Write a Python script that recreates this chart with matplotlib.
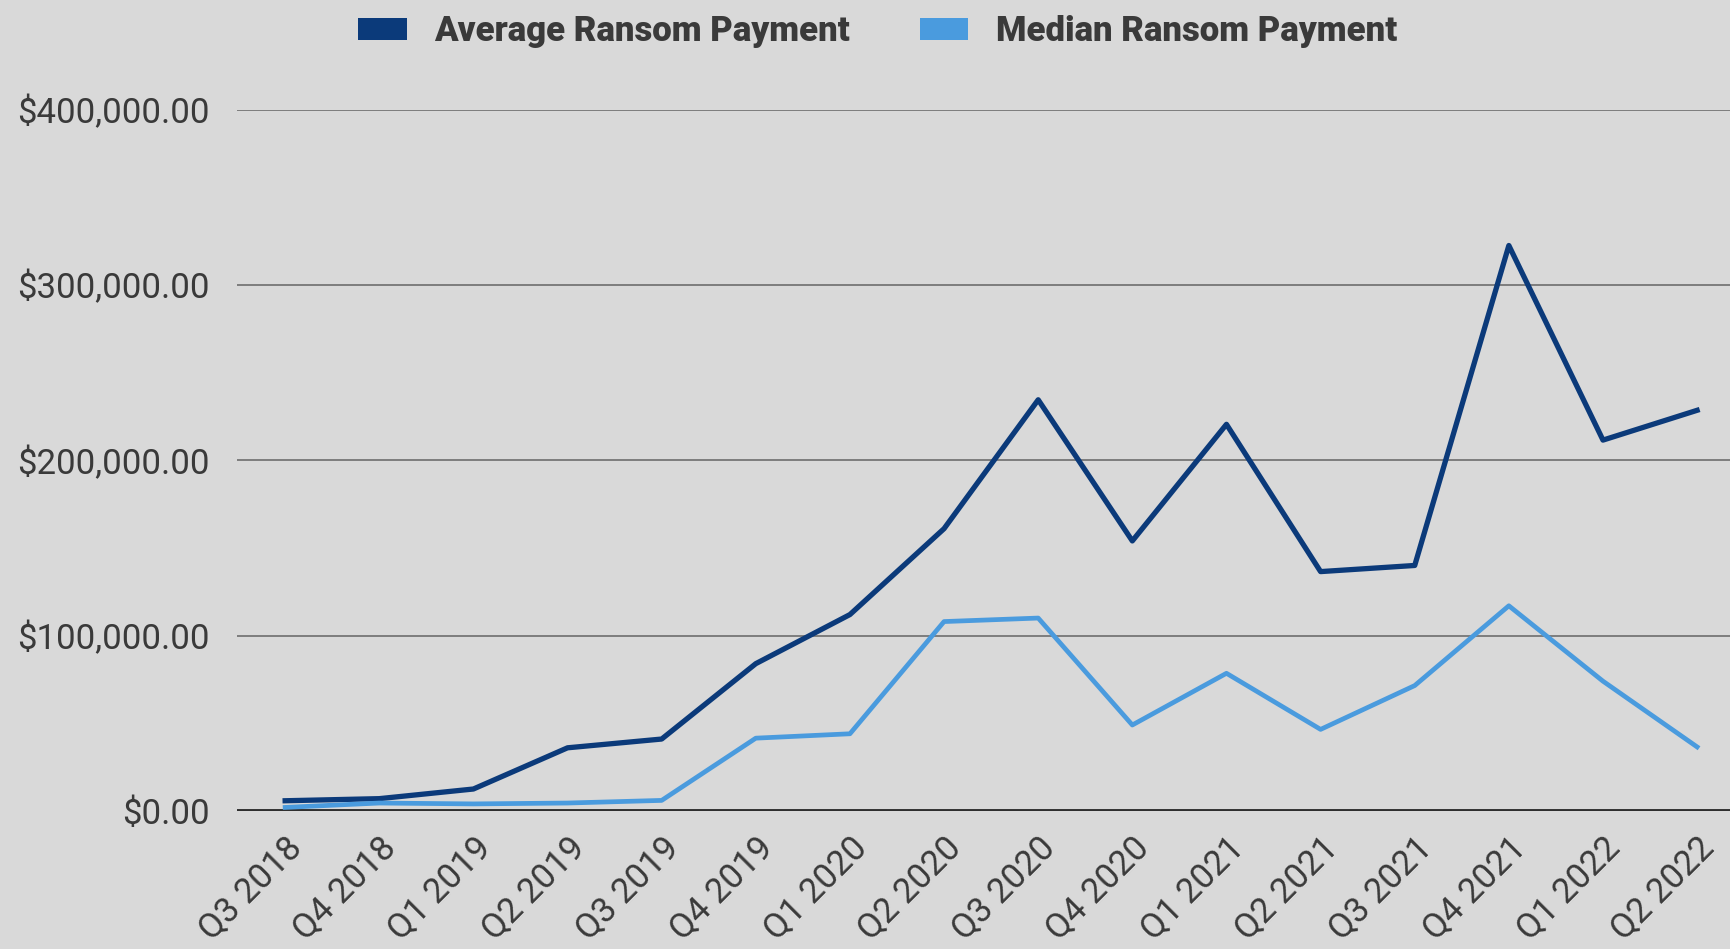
import matplotlib.pyplot as plt
from matplotlib.patches import Patch
from matplotlib.ticker import FuncFormatter

# trimestres y valores
trimestres = ["Q3 2018", "Q4 2018", "Q1 2019", "Q2 2019", "Q3 2019", "Q4 2019",
              "Q1 2020", "Q2 2020", "Q3 2020", "Q4 2020", "Q1 2021", "Q2 2021",
              "Q3 2021", "Q4 2021", "Q1 2022", "Q2 2022"]
promedio = [5800, 7000, 12500, 36000, 41000, 84000, 112000, 161000, 234500,
            154000, 220500, 136500, 140000, 322500, 211500, 228500]
mediana = [2000, 4500, 4000, 4500, 6000, 41500, 44000, 108000, 110000,
           49000, 78500, 46500, 71500, 117000, 74000, 36500]
y_ticks = [0, 100000, 200000, 300000, 400000]

color_prom = "#0b3a7a"
color_med = "#4a9bde"
fondo = "#d9d9d9"
texto = "#3a3a3a"

fig = plt.figure(figsize=(17.31, 9.49), dpi=100, facecolor=fondo)
ax = fig.add_axes([0.137, 0.1455, 0.863, 0.739], facecolor=fondo)

x = range(len(trimestres))
ax.plot(x, promedio, color=color_prom, lw=3.8, clip_on=False, zorder=3)
ax.plot(x, mediana, color=color_med, lw=3.4, clip_on=False, zorder=3)

ax.set_ylim(0, 400000)
ax.set_xlim(-0.51, 15.36)
ax.set_yticks(y_ticks)
ax.yaxis.set_major_formatter(FuncFormatter(lambda v, p: f"${v:,.2f}"))
ax.set_xticks(list(x))
ax.set_xticklabels(trimestres, rotation=45, ha="right", rotation_mode="anchor")

for t in y_ticks[1:]:
    ax.axhline(t, color="#6e6e6e", lw=1.2, zorder=1)
ax.axhline(0, color="#2e2e2e", lw=2.8, zorder=2)

for s in ax.spines.values():
    s.set_visible(False)
ax.tick_params(axis="both", length=0, colors=texto, labelsize=25)
ax.tick_params(axis="y", pad=20)
ax.tick_params(axis="x", pad=14)
for lab in ax.get_xticklabels() + ax.get_yticklabels():
    lab.set_family(["Roboto", "DejaVu Sans"])

handles = [Patch(facecolor=color_prom, label="Average Ransom Payment"),
           Patch(facecolor=color_med, label="Median Ransom Payment")]
leg = fig.legend(handles=handles, loc="center", bbox_to_anchor=(0.507, 0.967),
                 ncol=2, frameon=False, handlelength=1.4, handleheight=0.6,
                 columnspacing=2.0, handletextpad=0.8,
                 prop={"family": ["Roboto", "DejaVu Sans"], "weight": 900, "size": 25})
for t in leg.get_texts():
    t.set_color(texto)

plt.savefig("out.png", dpi=100, facecolor=fondo)
